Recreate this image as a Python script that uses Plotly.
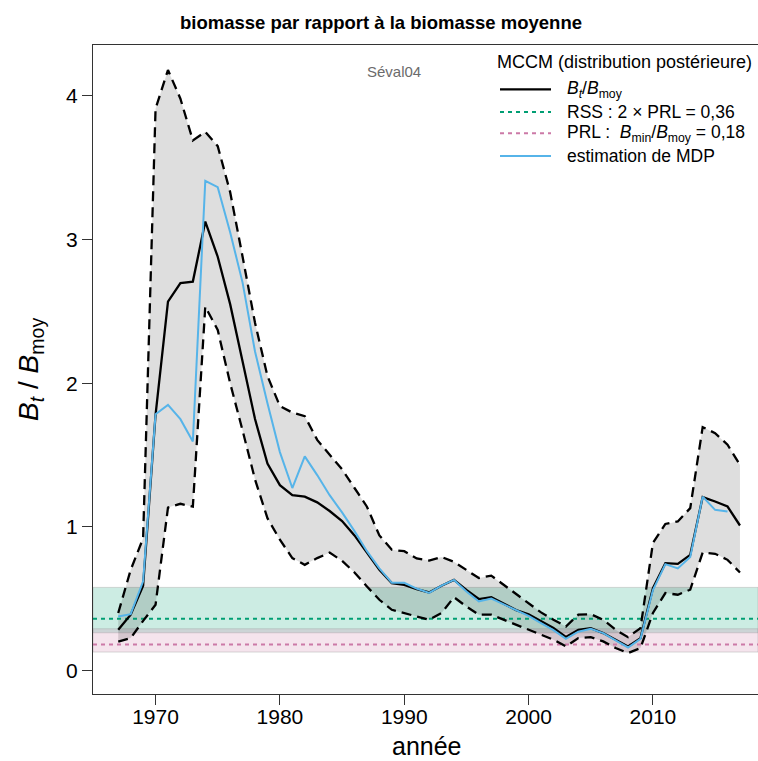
import plotly.graph_objects as go

# Years covered by the assessment
years = list(range(1967, 2018))

# Posterior median of B_t / B_moy
median = [0.283, 0.388, 0.589, 1.78, 2.568, 2.696, 2.707, 3.125, 2.88, 2.55,
          2.15, 1.75, 1.44, 1.29, 1.22, 1.21, 1.17, 1.11, 1.04, 0.94,
          0.82, 0.70, 0.608, 0.596, 0.566, 0.543, 0.59, 0.63, 0.56, 0.497,
          0.51, 0.464, 0.42, 0.39, 0.34, 0.295, 0.233, 0.283, 0.295, 0.26,
          0.214, 0.167, 0.225, 0.573, 0.747, 0.742, 0.805, 1.207, 1.176, 1.141,
          1.009]

# Upper (97.5 %) and lower (2.5 %) posterior quantiles
upper = [0.40, 0.70, 0.92, 3.91, 4.18, 3.98, 3.69, 3.75, 3.65, 3.33,
         2.88, 2.42, 2.05, 1.84, 1.795, 1.77, 1.605, 1.50, 1.40, 1.27,
         1.14, 0.94, 0.84, 0.83, 0.78, 0.765, 0.79, 0.756, 0.70, 0.643,
         0.66, 0.596, 0.527, 0.464, 0.404, 0.353, 0.306, 0.388, 0.392, 0.353,
         0.283, 0.232, 0.295, 0.887, 1.02, 1.037, 1.13, 1.694, 1.652, 1.571,
         1.431]

lower = [0.20, 0.225, 0.345, 0.457, 1.134, 1.16, 1.14, 2.533, 2.37, 2.00,
         1.67, 1.33, 1.06, 0.91, 0.782, 0.735, 0.782, 0.82, 0.763, 0.682,
         0.585, 0.492, 0.422, 0.40, 0.376, 0.353, 0.40, 0.51, 0.445, 0.388,
         0.388, 0.353, 0.318, 0.283, 0.248, 0.214, 0.167, 0.225, 0.232, 0.202,
         0.156, 0.121, 0.156, 0.40, 0.539, 0.527, 0.562, 0.821, 0.812, 0.77,
         0.682]

# Maximum posterior density estimate (no value for the last year)
mdp = [0.376, 0.392, 0.62, 1.784, 1.849, 1.749, 1.594, 3.408, 3.364, 3.05,
       2.70, 2.22, 1.86, 1.52, 1.27, 1.49, 1.36, 1.22, 1.10, 0.97,
       0.83, 0.71, 0.61, 0.61, 0.57, 0.54, 0.59, 0.63, 0.55, 0.48,
       0.50, 0.46, 0.42, 0.38, 0.33, 0.28, 0.22, 0.27, 0.29, 0.26,
       0.21, 0.16, 0.22, 0.56, 0.74, 0.71, 0.79, 1.21, 1.118, 1.107,
       None]

# Reference points and their uncertainty bands
rss_value = 0.36
prl_value = 0.18
rss_band = [0.262, 0.578]
prl_band = [0.128, 0.29]

x_ticks = [1970, 1980, 1990, 2000, 2010]
y_ticks = [0, 1, 2, 3, 4]
x_range = [1964.97, 2018.45]
y_range = [-0.164, 4.354]

FONT = "Liberation Sans, Arial, sans-serif"
GREEN = "#009E73"
PINK = "#CC79A7"
BLUE = "#56B4E9"

W, H = 758, 761
L, R, T, B = 93, 0, 45, 67
plot_w = W - L - R
plot_h = H - T - B


def px_x(px):
    return (px - L) / plot_w


def px_y(py):
    return (H - B - py) / plot_h


fig = go.Figure()

# Credible interval envelope
fig.add_trace(go.Scatter(
    x=years + years[::-1], y=upper + lower[::-1],
    fill="toself", fillcolor="rgba(0,0,0,0.13)",
    line=dict(width=0), mode="lines", hoverinfo="skip", showlegend=False))

# Reference lines across the full width
fig.add_trace(go.Scatter(
    x=x_range, y=[rss_value, rss_value], mode="lines",
    line=dict(color=GREEN, width=2, dash="4px,4px"), showlegend=False))
fig.add_trace(go.Scatter(
    x=x_range, y=[prl_value, prl_value], mode="lines",
    line=dict(color=PINK, width=2, dash="4px,4px"), showlegend=False))

# Quantile bounds
for q in (upper, lower):
    fig.add_trace(go.Scatter(
        x=years, y=q, mode="lines",
        line=dict(color="black", width=2.3, dash="10px,6px"), showlegend=False))

# Median and MDP estimate
fig.add_trace(go.Scatter(
    x=years, y=median, mode="lines",
    line=dict(color="black", width=2.3), showlegend=False))
fig.add_trace(go.Scatter(
    x=years, y=mdp, mode="lines",
    line=dict(color=BLUE, width=2), showlegend=False))

shapes = [
    dict(type="rect", xref="paper", yref="y", x0=0, x1=1,
         y0=rss_band[0], y1=rss_band[1], layer="below",
         fillcolor="rgba(0,158,115,0.2)", line=dict(color="rgba(150,150,150,0.35)", width=1)),
    dict(type="rect", xref="paper", yref="y", x0=0, x1=1,
         y0=prl_band[0], y1=prl_band[1], layer="below",
         fillcolor="rgba(204,121,167,0.2)", line=dict(color="rgba(150,150,150,0.35)", width=1)),
]

# Legend drawn as shapes + text
legend_rows = [
    ("<i>B</i><sub><i>t</i></sub>/<i>B</i><sub>moy</sub>", "black", "solid", 89.3),
    ("RSS : 2 × PRL = 0,36", GREEN, "4px,4px", 112.0),
    ("PRL :  <i>B</i><sub>min</sub>/<i>B</i><sub>moy</sub> = 0,18", PINK, "4px,4px", 133.3),
    ("estimation de MDP", BLUE, "solid", 156.0),
]
annotations = [
    dict(text="MCCM (distribution postérieure)", xref="paper", yref="paper",
         x=px_x(495), y=px_y(62), xanchor="left", yanchor="middle",
         showarrow=False, font=dict(family=FONT, size=18, color="black")),
]
for label, color, dash, ypx in legend_rows:
    shapes.append(dict(type="line", xref="paper", yref="paper",
                       x0=px_x(500), x1=px_x(551), y0=px_y(ypx), y1=px_y(ypx),
                       line=dict(color=color, width=2.3 if color == "black" else 2,
                                 dash=dash)))
    annotations.append(dict(text=label, xref="paper", yref="paper",
                            x=px_x(565), y=px_y(ypx), xanchor="left", yanchor="middle",
                            showarrow=False,
                            font=dict(family=FONT, size=17.5, color="black")))

annotations += [
    dict(text="Séval04", xref="paper", yref="paper", x=px_x(394), y=px_y(72),
         xanchor="center", yanchor="middle", showarrow=False,
         font=dict(family=FONT, size=15, color="#6b6b6b")),
    dict(text="<b>biomasse par rapport à la biomasse moyenne</b>", xref="paper", yref="paper",
         x=px_x(381), y=px_y(22), xanchor="center", yanchor="middle", showarrow=False,
         font=dict(family=FONT, size=18.5, color="black")),
    dict(text="année", xref="paper", yref="paper", x=px_x(427), y=px_y(746),
         xanchor="center", yanchor="middle", showarrow=False,
         font=dict(family=FONT, size=25, color="black")),
    dict(text="<i>B</i><sub><i>t</i></sub> / <i>B</i><sub>moy</sub>", xref="paper", yref="paper",
         x=px_x(30), y=px_y(370), xanchor="center", yanchor="middle", textangle=-90,
         showarrow=False, font=dict(family=FONT, size=28, color="black")),
]

fig.update_layout(
    width=W, height=H,
    margin=dict(l=L, r=R, t=T, b=B),
    paper_bgcolor="white", plot_bgcolor="white",
    showlegend=False,
    font=dict(family=FONT, color="black"),
    shapes=shapes, annotations=annotations,
    xaxis=dict(range=x_range, tickvals=x_ticks, ticks="outside", ticklen=10,
               tickcolor="#333", tickwidth=1.2, showline=True, linecolor="#333",
               linewidth=1.3, mirror=True, showgrid=False, zeroline=False,
               ticklabelstandoff=-6,
               tickfont=dict(family=FONT, size=21, color="black")),
    yaxis=dict(range=y_range, tickvals=y_ticks, ticks="outside", ticklen=10,
               tickcolor="#333", tickwidth=1.2, showline=True, linecolor="#333",
               linewidth=1.3, mirror=False, showgrid=False, zeroline=False,
               tickfont=dict(family=FONT, size=21, color="black")),
)

fig.write_html("out.html")
